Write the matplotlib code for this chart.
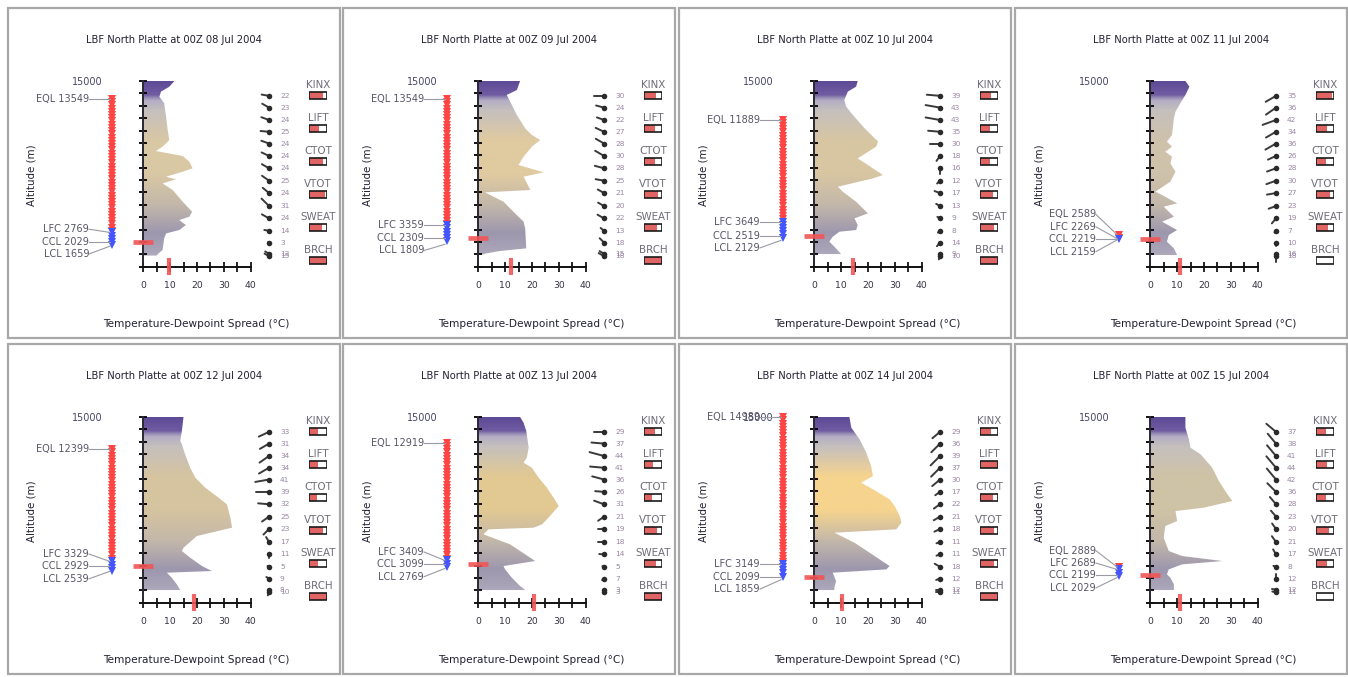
import numpy as np
import matplotlib
matplotlib.use('Agg')
import matplotlib.pyplot as plt
from matplotlib.colors import LinearSegmentedColormap
from matplotlib.patches import Rectangle

# soundings, LBF North Platte, 00Z
dates = ['08 Jul 2004', '09 Jul 2004', '10 Jul 2004', '11 Jul 2004',
         '12 Jul 2004', '13 Jul 2004', '14 Jul 2004', '15 Jul 2004']

# temperature-dewpoint spread profiles (altitude m, spread C)
alt_08 = [15000, 14540, 14140, 13730, 13200, 12120, 11040, 10230, 9695, 9345, 8940, 8480, 7945, 7675,
          7270, 7055, 6730, 6190, 5250, 4440, 4040, 3770, 3366, 2960, 2690, 2290, 1350, 1020, 900]
spr_08 = [11.6, 9.7, 6.6, 6.0, 7.8, 8.5, 9.1, 9.7, 7.2, 4.7, 14.7, 17.2, 18.4, 14.7,
          8.5, 12.2, 7.2, 11.0, 14.7, 18.2, 17.2, 13.4, 15.9, 13.4, 8.5, 7.8, 7.2, 5.4, 5.0]
alt_09 = [15000, 14273, 13870, 13330, 12250, 11175, 10640, 10233, 9695, 8887, 8214, 7621, 7271, 6463,
          6194, 6005, 5251, 4443, 3636, 3097, 1481, 1266, 1077, 943]
spr_09 = [15.6, 14.4, 10.6, 11.9, 14.4, 17.5, 20.0, 23.1, 20.0, 16.9, 15.0, 24.4, 16.9, 18.8,
          19.4, 2.5, 9.4, 13.1, 16.9, 17.5, 17.9, 8.0, 3.0, 1.0]
alt_10 = [15000, 14540, 14140, 13465, 12925, 12250, 11175, 10100, 9695, 8750, 8214, 7405, 7135, 6463,
          6060, 5251, 4309, 3905, 3366, 2962, 2828, 2424, 2020, 1616, 1023]
spr_10 = [16.2, 15.6, 12.5, 11.2, 11.9, 14.4, 18.8, 23.8, 23.1, 16.2, 20.0, 25.6, 21.9, 8.8,
          10.6, 15.6, 20.0, 15.0, 16.2, 15.6, 9.4, 6.9, 5.6, 7.5, 10.0]
alt_11 = [15000, 14540, 13870, 13196, 12520, 11980, 10640, 10100, 9695, 9290, 8887, 8350, 7675, 6870,
          6060, 5790, 5117, 4847, 4040, 3636, 2962, 2558, 2020, 1481, 943]
spr_11 = [13.1, 14.6, 13.1, 11.2, 9.4, 8.8, 8.1, 6.2, 8.1, 5.6, 8.1, 7.5, 9.4, 7.5,
          1.9, 4.4, 10.0, 5.0, 8.8, 4.4, 10.0, 6.9, 6.2, 8.8, 10.0]
alt_12 = [15000, 13870, 13060, 12790, 11980, 10900, 10100, 9290, 8480, 7945, 6870, 6060, 5386, 4443,
          4175, 3636, 2962, 2558, 2424, 2020, 1481, 1023]
spr_12 = [15.0, 14.4, 13.8, 14.4, 15.6, 17.5, 19.4, 23.1, 28.1, 31.2, 32.5, 33.1, 20.0, 15.0,
          14.4, 17.5, 21.9, 25.6, 8.8, 10.6, 12.5, 13.8]
alt_13 = [15000, 14540, 13870, 12520, 11715, 11310, 10900, 10100, 9290, 8480, 7810, 6870, 6330, 6060,
          5925, 5520, 4713, 3905, 3366, 2962, 2693, 2020, 1346, 1023]
spr_13 = [15.6, 16.9, 17.9, 18.8, 18.1, 16.9, 20.0, 22.5, 25.6, 28.1, 30.0, 26.2, 23.8, 20.6,
          3.8, 1.9, 11.9, 17.5, 21.2, 9.4, 10.0, 12.5, 15.6, 17.5]
alt_14 = [15000, 14140, 13196, 12120, 11040, 10230, 9695, 9156, 8350, 7810, 7000, 6463, 5925, 5655,
          4847, 3770, 2962, 2693, 2424, 1750, 1212, 1023]
spr_14 = [13.1, 13.8, 16.9, 19.4, 21.2, 21.9, 17.5, 21.9, 28.1, 30.0, 31.9, 32.5, 30.6, 7.5,
          15.0, 22.5, 28.1, 26.9, 6.9, 8.1, 7.5, 7.5]
alt_15 = [15000, 14140, 13196, 12520, 11980, 10900, 9830, 8750, 8214, 7675, 7405, 6598, 6194, 5251,
          4175, 3770, 3366, 3097, 2693, 2289, 2020, 1481, 1023]
spr_15 = [13.1, 13.1, 14.4, 15.0, 18.8, 23.1, 25.6, 28.8, 30.6, 20.0, 9.4, 10.0, 5.6, 5.0,
          6.9, 11.9, 26.9, 11.9, 6.9, 6.2, 7.5, 8.8, 8.8]
profiles = [(alt_08, spr_08), (alt_09, spr_09), (alt_10, spr_10), (alt_11, spr_11),
            (alt_12, spr_12), (alt_13, spr_13), (alt_14, spr_14), (alt_15, spr_15)]

# parcel levels (m)
eql = [13549, 13549, 11889, 2589, 12399, 12919, 14989, 2889]
lfc = [2769, 3359, 3649, 2269, 3329, 3409, 3149, 2689]
ccl = [2029, 2309, 2519, 2219, 2929, 3099, 2099, 2199]
lcl = [1659, 1809, 2129, 2159, 2539, 2769, 1859, 2029]
# surface spread marker on the x axis
sfc_spread = [9.5, 12.2, 14.4, 11.0, 18.8, 20.6, 10.2, 11.0]

# winds: levels top -> bottom, speed (kt), direction (deg)
wind_alt = [13800, 12850, 11850, 10900, 9950, 8950, 7950, 6950, 5950, 4900, 3900, 2900, 1950, 1050, 850]
wspd = [
    [22, 23, 24, 25, 24, 24, 24, 25, 24, 31, 24, 14, 3, 13, 15],
    [30, 24, 22, 27, 28, 30, 28, 25, 21, 20, 22, 13, 18, 15, 18],
    [39, 43, 43, 35, 30, 18, 16, 12, 17, 13, 9, 8, 14, 9, 10],
    [35, 36, 42, 34, 36, 26, 28, 30, 27, 23, 19, 7, 10, 16, 18],
    [33, 31, 34, 34, 41, 39, 32, 25, 23, 17, 11, 5, 9, 8, 10],
    [29, 37, 44, 41, 36, 26, 31, 21, 19, 18, 14, 5, 7, 3, 3],
    [29, 36, 39, 37, 30, 17, 22, 21, 18, 11, 11, 18, 12, 12, 11],
    [37, 38, 41, 44, 42, 36, 28, 23, 20, 21, 17, 8, 12, 12, 11],
]
wdir = [
    [280, 300, 290, 275, 290, 295, 300, 305, 310, 315, 300, 280, 300, 300, 300],
    [270, 285, 290, 295, 300, 300, 285, 280, 300, 300, 300, 310, 315, 300, 300],
    [275, 280, 280, 275, 270, 215, 180, 225, 290, 300, 300, 230, 220, 200, 200],
    [240, 235, 250, 240, 240, 245, 250, 250, 260, 250, 220, 220, 180, 180, 180],
    [245, 240, 235, 240, 260, 270, 275, 235, 225, 330, 180, 300, 300, 200, 200],
    [270, 275, 285, 275, 285, 275, 290, 235, 270, 270, 275, 290, 230, 240, 240],
    [230, 225, 225, 225, 230, 235, 235, 240, 245, 250, 250, 300, 250, 270, 270],
    [310, 320, 320, 320, 320, 315, 320, 320, 325, 325, 330, 290, 0, 280, 280],
]

# stability indices, gauge fill fraction
index_names = ['KINX', 'LIFT', 'CTOT', 'VTOT', 'SWEAT', 'BRCH']
index_frac = [
    [0.8, 0.55, 0.75, 0.9, 0.7, 1.0],
    [0.65, 0.6, 0.6, 0.8, 0.7, 1.0],
    [0.6, 0.55, 0.55, 0.7, 0.75, 1.0],
    [0.9, 0.6, 0.55, 0.75, 0.65, 0.0],
    [0.5, 0.5, 0.45, 0.75, 0.5, 1.0],
    [0.6, 0.5, 0.45, 0.7, 0.65, 1.0],
    [0.6, 1.0, 0.7, 0.8, 0.8, 1.0],
    [0.55, 0.6, 0.55, 0.7, 0.6, 0.0],
]

mid_col = ['#d9c8a4', '#e0caa0', '#d8c6a2', '#cfc2aa', '#d6c4a0', '#e2c992', '#f6d48e', '#cfc3a6']

W, H = 1348, 677
fig = plt.figure(figsize=(W / 100, H / 100), dpi=100)
fig.patch.set_facecolor('white')


def rect(x, y, w, h):
    return [x / W, 1 - (y + h) / H, w / W, h / H]


col_x = [0, 335, 671, 1007]
row_y = [0, 336]
M_PER_PX = 15000 / 185.7

for i in range(8):
    r, c = divmod(i, 4)
    ox, oy = col_x[c], row_y[r]

    # panel frame
    fig.patches.append(Rectangle(((8 + ox) / W, 1 - (338 + oy) / H), 332 / W, 330 / H,
                                 transform=fig.transFigure, fill=False,
                                 edgecolor='#a8a8a8', lw=1.6))

    ax = fig.add_axes(rect(143.3 + ox, 81 + oy, 107.2, 185.7))
    alt, spr = profiles[i]
    alt = [alt[0]] + list(alt) + [alt[-1]]
    spr = [0] + list(spr) + [0]
    poly = ax.fill_betweenx(alt, 0, spr, facecolor='none', edgecolor='none')
    cmap = LinearSegmentedColormap.from_list('g', [
        (0.0, '#bdbcc4'), (0.08, '#aaa5b8'), (0.18, '#9d97ae'), (0.33, '#c2b7aa'),
        (0.5, mid_col[i]), (0.68, mid_col[i]), (0.84, '#c6c0bd'), (0.9, '#b4adc4'),
        (0.93, '#6f5ca2'), (1.0, '#5e4a96')])
    grad = np.linspace(0, 1, 300).reshape(-1, 1)
    img = ax.imshow(grad, extent=[0, 40, 0, 15000], origin='lower', aspect='auto',
                    cmap=cmap, zorder=1)
    img.set_clip_path(poly.get_paths()[0], ax.transData)

    ax.set_xlim(0, 40)
    ax.set_ylim(0, 15000)
    for s in ['top', 'right']:
        ax.spines[s].set_visible(False)
    ax.spines['left'].set_color('#2b2830')
    ax.spines['bottom'].set_color('#111111')
    ax.spines['left'].set_linewidth(1.4)
    ax.spines['bottom'].set_linewidth(1.4)
    ax.set_facecolor('none')
    ax.set_xticks(np.arange(0, 41, 5))
    ax.set_xticklabels(['0', '', '10', '', '20', '', '30', '', '40'])
    yt = np.arange(0, 15001, 1000)
    ax.set_yticks(yt)
    ax.set_yticklabels([''] * (len(yt) - 1) + ['15000'])
    ax.tick_params(axis='x', direction='inout', length=7, width=1.2, pad=7,
                   labelsize=6.7, labelcolor='#333344')
    ax.tick_params(axis='y', direction='inout', length=6, width=1.3, pad=26,
                   labelsize=6.9, labelcolor='#444466')

    # CCL bar and surface spread bar
    ax.plot([-3.7, 3.7], [ccl[i], ccl[i]], color='#f25555', lw=3.4, alpha=0.9,
            solid_capstyle='butt', clip_on=False, zorder=5)
    ax.plot([sfc_spread[i], sfc_spread[i]], [-700, 700], color='#f25555', lw=3.0,
            alpha=0.9, solid_capstyle='butt', clip_on=False, zorder=5)

    # parcel level column
    lax = fig.add_axes(rect(20 + ox, 81 + oy, 120, 185.7), sharey=ax)
    lax.axis('off')
    lax.set_xlim(0, 120)
    red = np.arange(eql[i], lfc[i], -260.0)
    blue = np.arange(lfc[i], lcl[i] - 1, -260.0)
    lax.plot(np.full(len(red), 92), red, 'v', color='#ff4444', ms=5.2, mew=0, clip_on=False)
    lax.plot(np.full(len(blue), 92), blue, 'v', color='#4455ff', ms=5.2, mew=0, clip_on=False)
    gap = 1000
    lab_lfc = max(lfc[i], ccl[i] + gap)
    lab_eql = max(eql[i], lab_lfc + gap)
    lab_lcl = min(lcl[i], ccl[i] - gap)
    for name, val, ya in [('EQL', eql[i], lab_eql), ('LFC', lfc[i], lab_lfc),
                          ('CCL', ccl[i], ccl[i]), ('LCL', lcl[i], lab_lcl)]:
        lax.plot([69, 90], [ya, val], color='#9a9aa4', lw=0.8, clip_on=False)
        lax.text(69, ya, f'{name} {val}', ha='right', va='center', fontsize=7,
                 color='#555566', clip_on=False)

    # winds
    wax = fig.add_axes(rect(250 + ox, 81 + oy, 50, 185.7), sharey=ax)
    wax.axis('off')
    wax.set_xlim(0, 50)
    for a, s, d in zip(wind_alt, wspd[i], wdir[i]):
        L = 0.34 * s
        dx = L * np.sin(np.radians(d))
        dy = L * np.cos(np.radians(d)) * M_PER_PX
        wax.plot([19, 19 + dx], [a, a + dy], color='#3a3a3a', lw=1.4,
                 solid_capstyle='round', clip_on=False)
        wax.plot(19, a, 'o', color='#2a2a2a', ms=4.0, mew=0, clip_on=False)
        wax.text(30, a, str(s), ha='left', va='center', fontsize=5.4,
                 color='#9a88a6', clip_on=False)

    # index gauges
    iax = fig.add_axes(rect(309 + ox, 78 + oy, 18, 198))
    iax.axis('off')
    iax.set_xlim(0, 1)
    iax.set_ylim(6, 0)
    yy = np.arange(6)
    iax.barh(yy + 0.53, index_frac[i], height=0.22, left=0, color='#e06464', lw=0)
    iax.barh(yy + 0.53, 1, height=0.22, left=0, facecolor='none', edgecolor='#1a1a1a', lw=1.2)
    for k, nm in enumerate(index_names):
        iax.text(0.5, k + 0.2, nm, ha='center', va='center', fontsize=7.4,
                 color='#6d6d78', clip_on=False)

    fig.text((174 + ox) / W, 1 - (40 + oy) / H, f'LBF North Platte at 00Z {dates[i]}',
             ha='center', va='center', fontsize=7.2, color='#222233')
    fig.text((196 + ox) / W, 1 - (324 + oy) / H, 'Temperature-Dewpoint Spread (\u00b0C)',
             ha='center', va='center', fontsize=7.6, color='#222233')
    fig.text((32 + ox) / W, 1 - (175 + oy) / H, 'Altitude (m)', rotation=90,
             ha='center', va='center', fontsize=7.4, color='#222233')

fig.savefig('out.png', dpi=100)
